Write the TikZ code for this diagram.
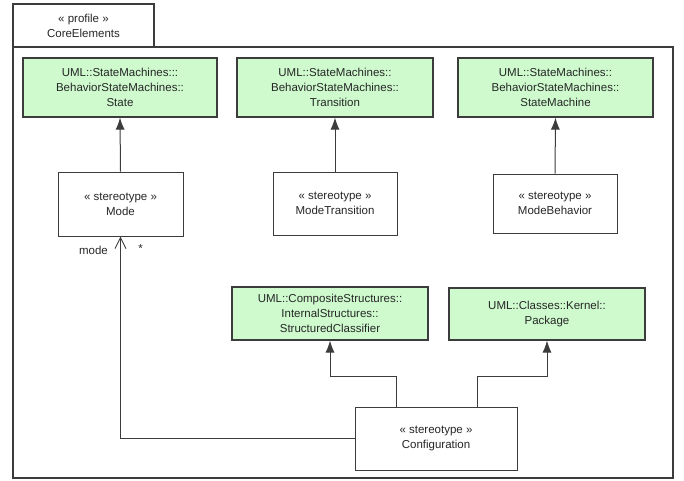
\documentclass[tikz,border=0pt]{standalone}
\usepackage{fontspec}
\setmainfont{Liberation Sans}
\usetikzlibrary{arrows.meta}
\definecolor{umlgreen}{RGB}{206,250,206}
\definecolor{umlline}{RGB}{60,60,60}

\begin{document}
\begin{tikzpicture}[x=1pt,y=1pt,
		every node/.style={font=\fontsize{11.5}{15}\selectfont, text=black!85, align=center, inner sep=0pt},
		metaclass/.style={draw=umlline, line width=1.1pt, fill=umlgreen, minimum width=196pt},
		stereo/.style={draw=umlline, line width=1pt, fill=white, minimum width=124pt},
		ext/.style={draw=umlline, line width=1pt, -{Latex[length=12pt,width=9pt]}},
		assoc/.style={draw=umlline, line width=1pt, -{Straight Barb[length=11pt,width=11pt]}}]
	\useasboundingbox (0,0) rectangle (684,-480);
	% Profile frame with its tab
	\node[draw=umlline, line width=1.1pt, minimum width=141pt, minimum height=43pt] (tab) at (83.5,-25.5) {« profile »\\CoreElements};
	\draw[umlline, line width=1.5pt] (13,-47) rectangle (673,-478);
	
	% Metaclasses
	\node[metaclass, minimum width=194pt, minimum height=59pt] (state) at (120,-87.5) {UML::StateMachines:::\\BehaviorStateMachines::\\State};
	\node[metaclass, minimum height=59pt] (trans) at (335,-87.5) {UML::StateMachines::\\BehaviorStateMachines::\\Transition};
	\node[metaclass, minimum width=195pt, minimum height=59pt] (smach) at (555.5,-87.5) {UML::StateMachines::\\BehaviorStateMachines::\\StateMachine};
	\node[metaclass, minimum height=53pt] (sclass) at (330,-313.5) {UML::CompositeStructures::\\InternalStructures::\\StructuredClassifier};
	\node[metaclass, minimum height=52pt] (pkg) at (547,-314) {UML::Classes::Kernel::\\Package};
	
	% Stereotypes
	\node[stereo, minimum width=125pt, minimum height=64pt] (mode) at (120.5,-204) {« stereotype »\\Mode};
	\node[stereo, minimum height=63pt] (modetrans) at (335,-203.5) {« stereotype »\\ModeTransition};
	\node[stereo, minimum height=59pt] (modebeh) at (555,-203.5) {« stereotype »\\ModeBehavior};
	\node[stereo, minimum width=162pt, minimum height=63pt] (config) at (436,-438.5) {« stereotype »\\Configuration};
	
	% Extensions
	\draw[ext] (mode.north) -- (state.south);
	\draw[ext] (modetrans.north) -- (trans.south);
	\draw[ext] (modebeh.north) -- (smach.south);
	\draw[ext] ([xshift=-40pt]config.north) -- ++(0,30) -| (sclass.south);
	\draw[ext] ([xshift=41pt]config.north) -- ++(0,30) -| (pkg.south);
	
	% Association to Mode
	\draw[assoc] (config.west) -| (mode.south);
	\node (role) at ([shift={(-27,-14)}]mode.south) {mode};
	\node (mult) at ([shift={(20,-12)}]mode.south) {*};
\end{tikzpicture}
\end{document}
